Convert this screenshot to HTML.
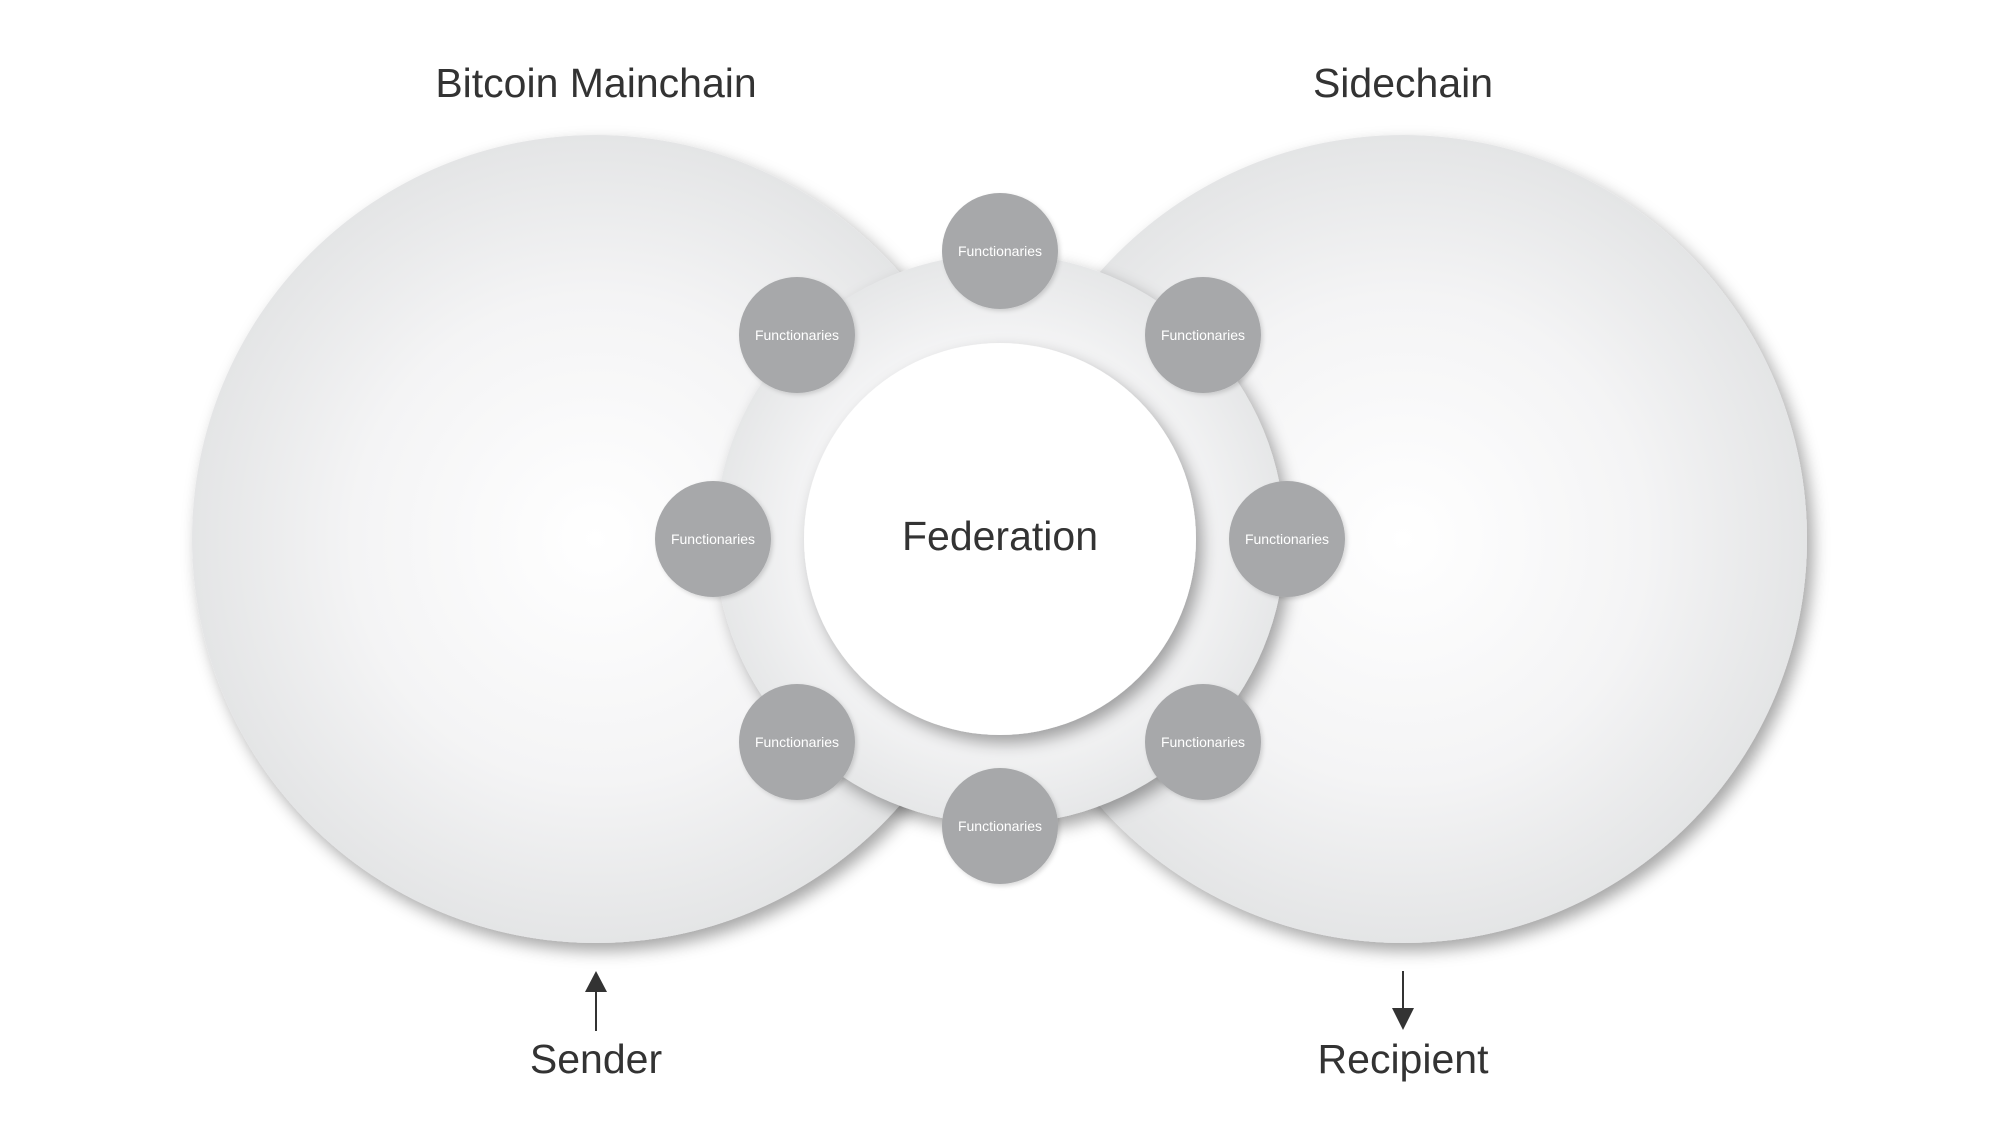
<!DOCTYPE html>
<html><head><meta charset="utf-8"><style>
html,body{margin:0;padding:0;background:#fff;}
svg{display:block;}
text{font-family:"Liberation Sans",Arial,sans-serif;}
</style></head><body>
<svg width="2000" height="1148" viewBox="0 0 2000 1148" xmlns="http://www.w3.org/2000/svg">
<defs>
<radialGradient id="big" cx="0.5" cy="0.5" r="0.5">
<stop offset="0" stop-color="#ffffff"/>
<stop offset="0.6" stop-color="#f4f4f5"/>
<stop offset="1" stop-color="#e4e5e6"/>
</radialGradient>
<radialGradient id="ring" cx="0.5" cy="0.5" r="0.5">
<stop offset="0.65" stop-color="#f6f6f7"/>
<stop offset="1" stop-color="#e6e7e8"/>
</radialGradient>
<filter id="sh" x="-20%" y="-20%" width="140%" height="140%">
<feDropShadow dx="6" dy="8" stdDeviation="8" flood-color="#000" flood-opacity="0.35"/>
</filter>
<filter id="sh2" x="-20%" y="-20%" width="140%" height="140%">
<feDropShadow dx="2" dy="2" stdDeviation="2" flood-color="#000" flood-opacity="0.15"/>
</filter>
</defs>
<text x="596" y="97" font-size="41" fill="#333" text-anchor="middle">Bitcoin Mainchain</text>
<text x="1403" y="97" font-size="41" fill="#333" text-anchor="middle">Sidechain</text>

<circle cx="596" cy="539" r="404" fill="url(#big)" filter="url(#sh)"/>
<circle cx="1403" cy="539" r="404" fill="url(#big)" filter="url(#sh)"/>
<circle cx="1000" cy="539" r="285" fill="url(#ring)" filter="url(#sh)"/>
<circle cx="1000" cy="539" r="196" fill="#ffffff" filter="url(#sh)"/>
<text x="1000" y="550" font-size="41" fill="#333" text-anchor="middle">Federation</text>

<g fill="#a7a8aa" filter="url(#sh2)">
<circle cx="1000" cy="251" r="58"/>
<circle cx="797" cy="335" r="58"/>
<circle cx="1203" cy="335" r="58"/>
<circle cx="713" cy="539" r="58"/>
<circle cx="1287" cy="539" r="58"/>
<circle cx="797" cy="742" r="58"/>
<circle cx="1203" cy="742" r="58"/>
<circle cx="1000" cy="826" r="58"/>
</g>
<g font-size="14" fill="#fff" text-anchor="middle">
<text x="1000" y="256">Functionaries</text>
<text x="797" y="340">Functionaries</text>
<text x="1203" y="340">Functionaries</text>
<text x="713" y="544">Functionaries</text>
<text x="1287" y="544">Functionaries</text>
<text x="797" y="747">Functionaries</text>
<text x="1203" y="747">Functionaries</text>
<text x="1000" y="831">Functionaries</text>
</g>

<line x1="596" y1="1031" x2="596" y2="990" stroke="#333" stroke-width="2"/>
<polygon points="596,971 585,992 607,992" fill="#333"/>
<line x1="1403" y1="971" x2="1403" y2="1010" stroke="#333" stroke-width="2"/>
<polygon points="1403,1030 1392,1008 1414,1008" fill="#333"/>
<text x="596" y="1073" font-size="41" fill="#333" text-anchor="middle">Sender</text>
<text x="1403" y="1073" font-size="41" fill="#333" text-anchor="middle">Recipient</text>
</svg>
</body></html>
